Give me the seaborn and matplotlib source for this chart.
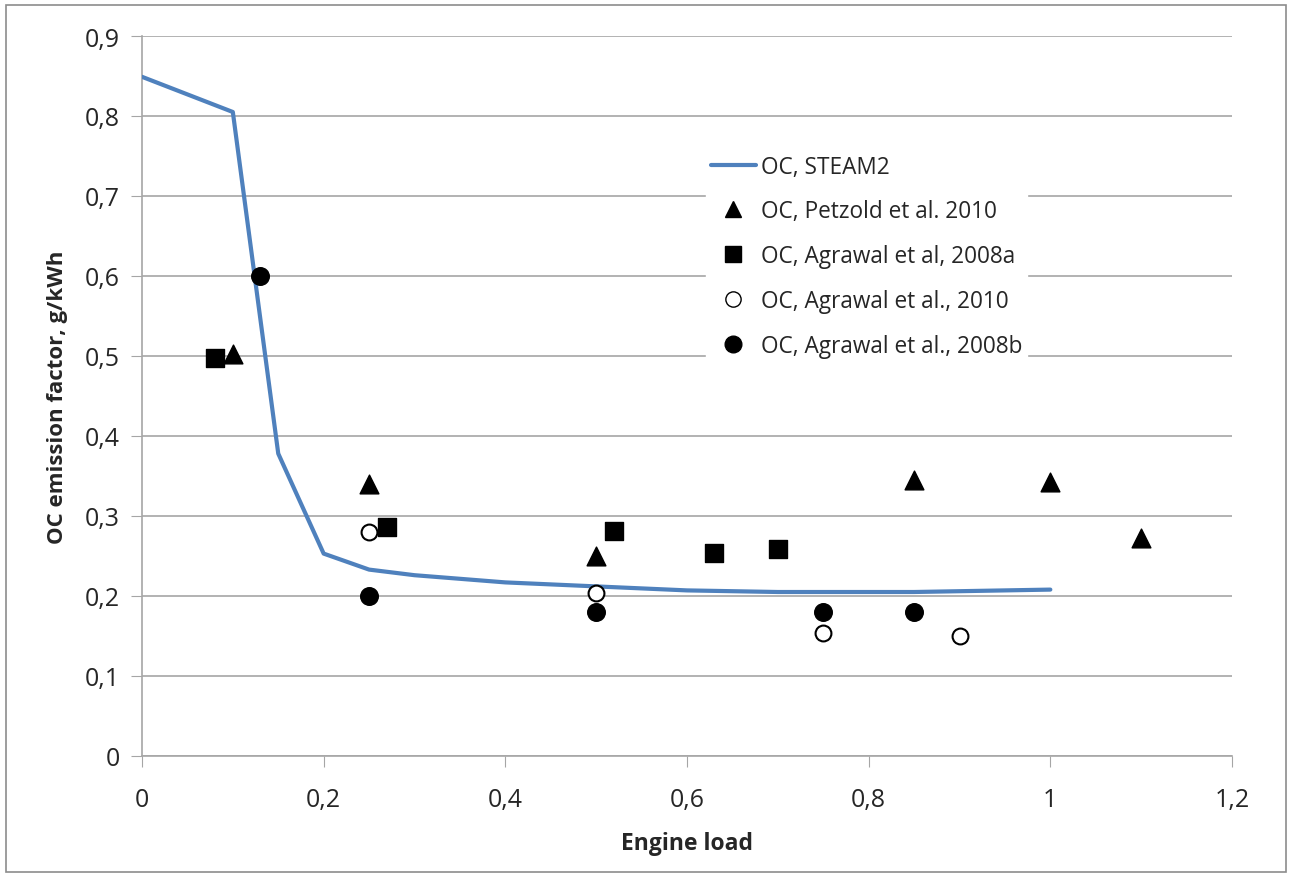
import matplotlib
matplotlib.use("Agg")
import matplotlib.pyplot as plt
import seaborn as sns
import pandas as pd
from matplotlib.ticker import FuncFormatter, MultipleLocator
from matplotlib.lines import Line2D
from matplotlib.patches import Rectangle

# ---- data ----
steam_x = [0.0, 0.1, 0.15, 0.2, 0.25, 0.3, 0.4, 0.5, 0.6, 0.7, 0.8, 0.85, 0.9, 1.0]
steam_y = [0.849, 0.805, 0.378, 0.253, 0.233, 0.226, 0.217, 0.212, 0.207, 0.205, 0.205, 0.205, 0.206, 0.208]

petzold_x = [0.1, 0.25, 0.5, 0.85, 1.0, 1.1]
petzold_y = [0.502, 0.340, 0.250, 0.345, 0.343, 0.272]

agr08a_x = [0.08, 0.27, 0.52, 0.63, 0.70]
agr08a_y = [0.498, 0.286, 0.281, 0.254, 0.259]

agr10_x = [0.25, 0.5, 0.75, 0.9]
agr10_y = [0.280, 0.204, 0.154, 0.150]

agr08b_x = [0.13, 0.25, 0.5, 0.75, 0.85]
agr08b_y = [0.600, 0.200, 0.180, 0.180, 0.180]

labels = ["OC, STEAM2", "OC, Petzold et al. 2010", "OC, Agrawal et al, 2008a",
          "OC, Agrawal et al., 2010", "OC, Agrawal et al., 2008b"]

sns.set_style("white")
plt.rcParams['font.family'] = ['Open Sans', 'DejaVu Sans']

fig = plt.figure(figsize=(12.92, 8.79), dpi=100)
ax = fig.add_axes([142/1292, 1-757/879, (1232-142)/1292, (757-37)/879])

line_color = "#4f81bd"
sns.lineplot(x=steam_x, y=steam_y, ax=ax, color=line_color, linewidth=3, zorder=3)
sns.scatterplot(x=petzold_x, y=petzold_y, ax=ax, marker="^", s=180, color="black", edgecolor="black", zorder=4)
sns.scatterplot(x=agr08a_x, y=agr08a_y, ax=ax, marker="s", s=150, color="black", edgecolor="black", zorder=4)
sns.scatterplot(x=agr10_x, y=agr10_y, ax=ax, marker="o", s=130, facecolor="white", edgecolor="black", linewidth=1.5, zorder=4)
sns.scatterplot(x=agr08b_x, y=agr08b_y, ax=ax, marker="o", s=160, color="black", edgecolor="black", zorder=4)

ax.set_xlim(0, 1.2)
ax.set_ylim(0, 0.9)
ax.xaxis.set_major_locator(MultipleLocator(0.2))
ax.yaxis.set_major_locator(MultipleLocator(0.1))

def fmt(v, pos):
    s = f"{v:.1f}"
    if s.endswith(".0"):
        s = s[:-2]
    return s.replace(".", ",")

ax.xaxis.set_major_formatter(FuncFormatter(fmt))
ax.yaxis.set_major_formatter(FuncFormatter(fmt))

ax.grid(axis="y", color="#a6a6a6", linewidth=1.2)
ax.grid(axis="x", visible=False)
for s in ["top", "right"]:
    ax.spines[s].set_visible(False)
for s in ["left", "bottom"]:
    ax.spines[s].set_color("#a6a6a6")
    ax.spines[s].set_linewidth(1.2)

ax.tick_params(axis="x", which="major", direction="out", length=8, color="#a6a6a6",
               labelsize=18, pad=14, bottom=True)
ax.tick_params(axis="y", which="major", direction="out", length=8, color="#a6a6a6",
               labelsize=18, pad=8, left=True)

ax.set_xlabel("Engine load", fontsize=16.5, fontweight="bold", labelpad=14)
ax.set_ylabel("OC emission factor, g/kWh", fontsize=16, fontweight="bold", labelpad=12)

handles = [
    Line2D([], [], color=line_color, linewidth=3),
    Line2D([], [], marker="^", linestyle="none", color="black", markersize=12),
    Line2D([], [], marker="s", linestyle="none", color="black", markersize=11),
    Line2D([], [], marker="o", linestyle="none", markerfacecolor="white", markeredgecolor="black", markersize=11),
    Line2D([], [], marker="o", linestyle="none", color="black", markersize=12),
]
leg = ax.legend(handles, labels, loc="upper left", bbox_to_anchor=(706/1292, 1-151/879),
                bbox_transform=fig.transFigure, frameon=True, fontsize=16.3,
                labelspacing=0.92, handlelength=2.0, handletextpad=0.25,
                borderpad=0.2, borderaxespad=0)
leg.get_frame().set_edgecolor("white")
leg.get_frame().set_facecolor("white")
leg.get_frame().set_alpha(1)
leg.get_frame().set_boxstyle("square", pad=0)

fig.patches.append(Rectangle((6/1292, 6/879), 1-12/1292, 1-12/879, transform=fig.transFigure,
                             fill=False, edgecolor="#8c8c8c", linewidth=1.2))

fig.savefig("out.png", dpi=100)
